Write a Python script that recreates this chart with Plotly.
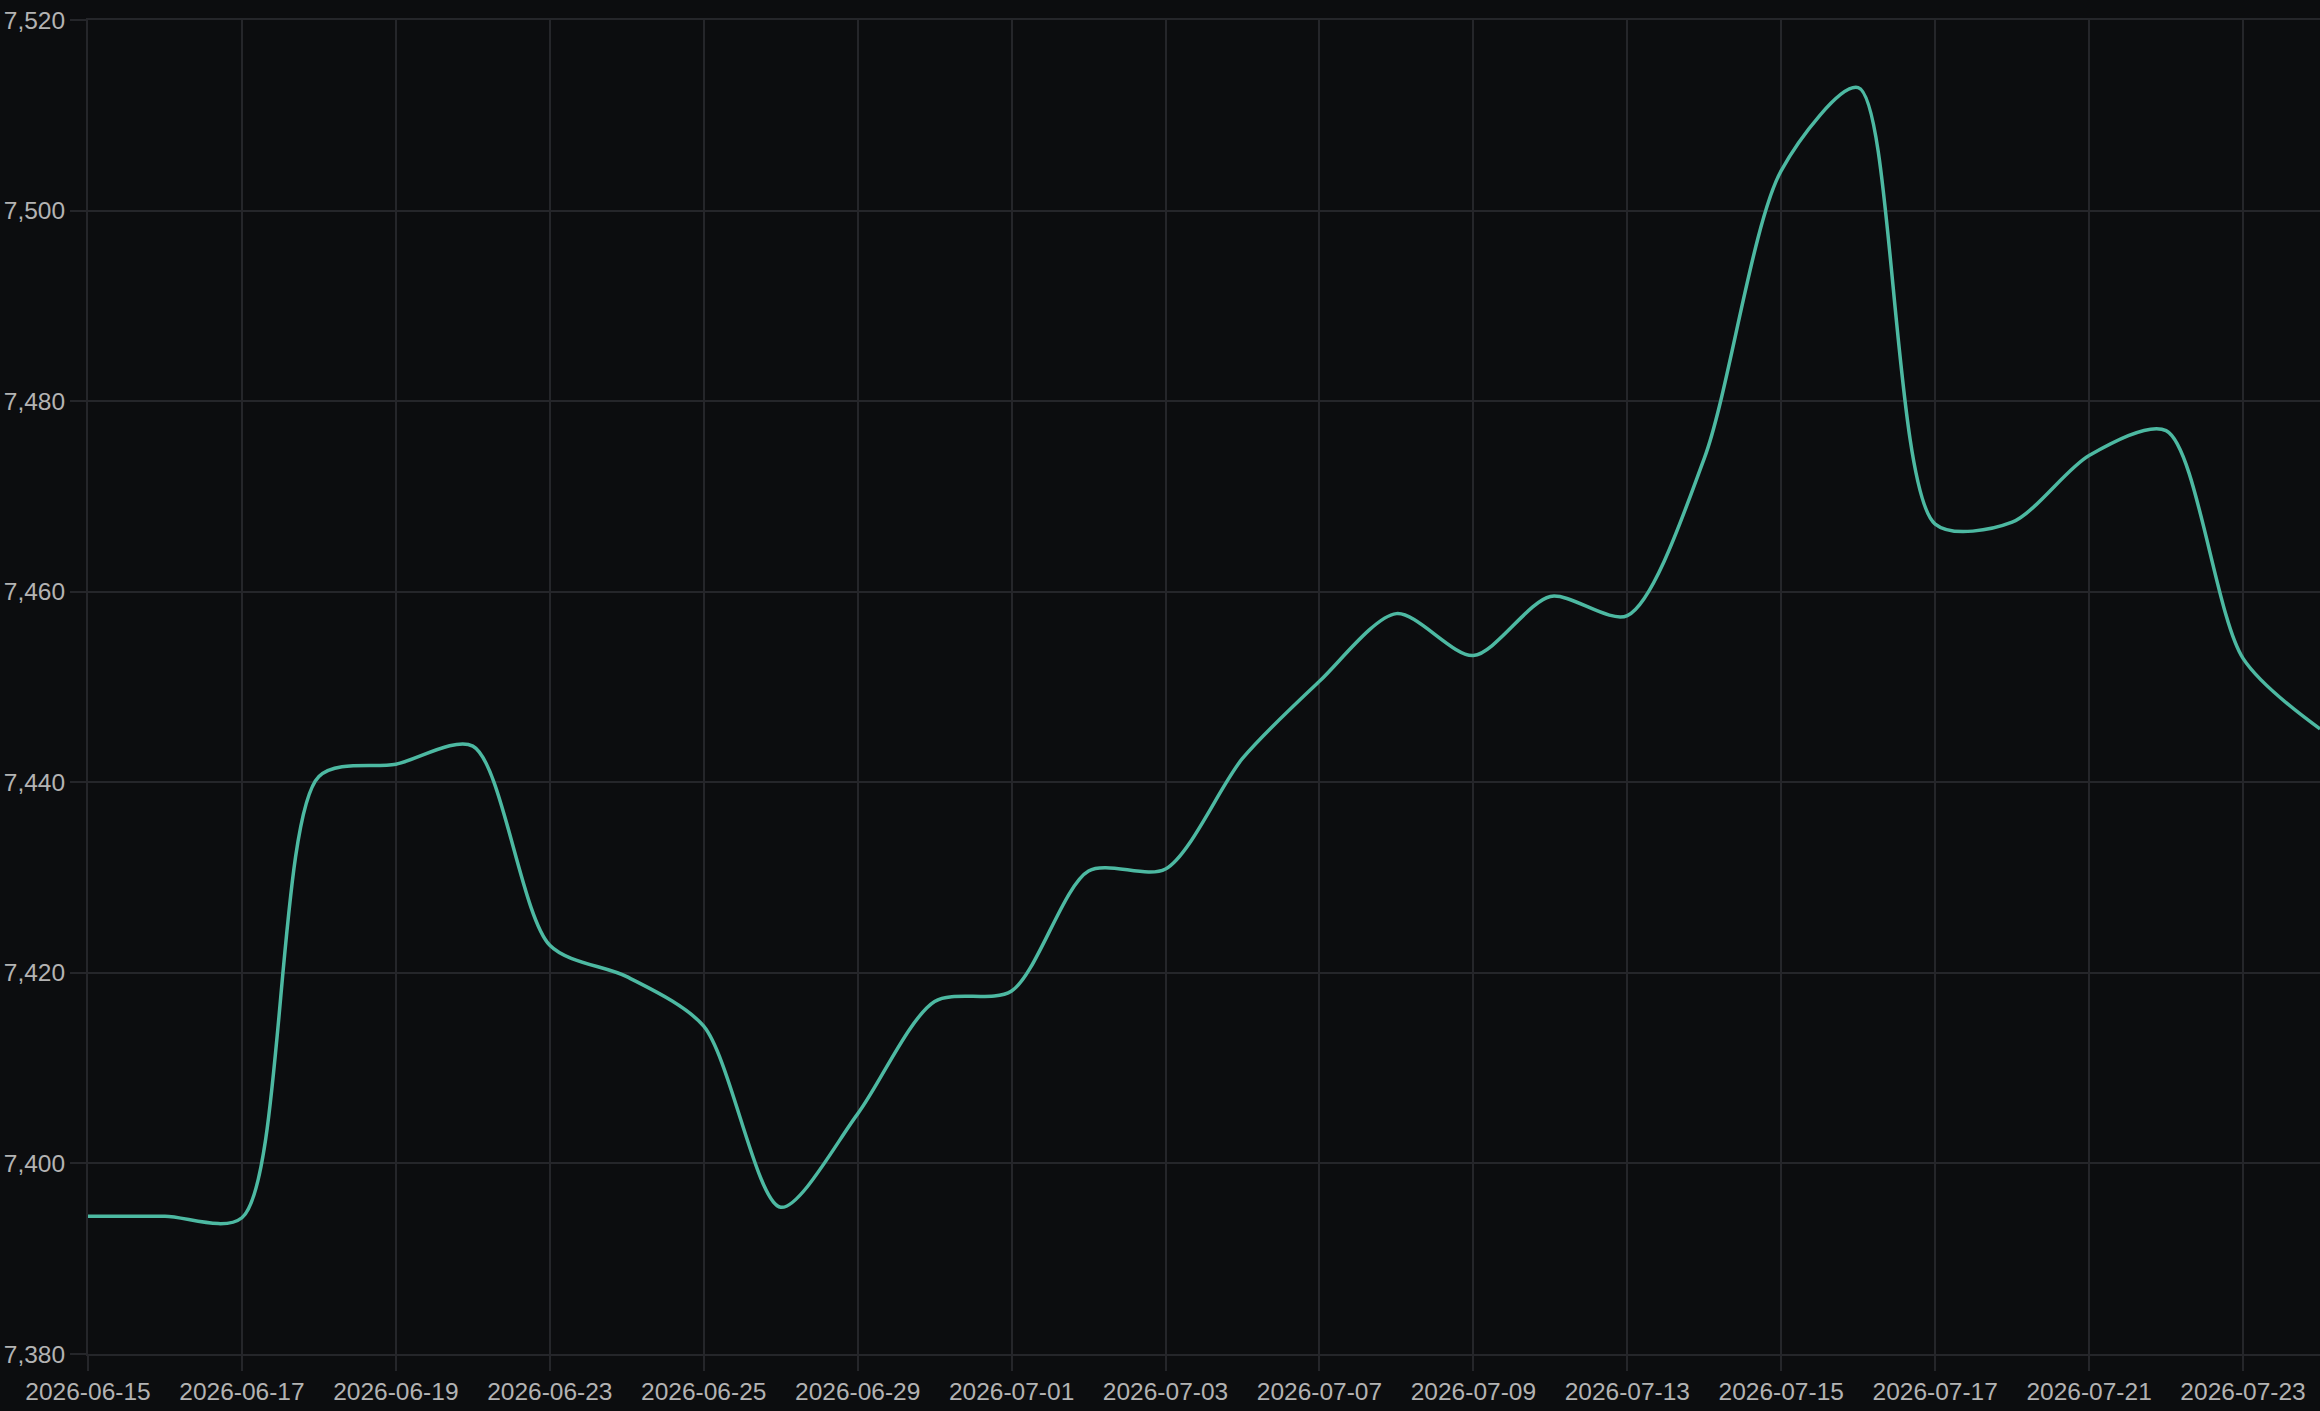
# import necessary libraries
import plotly.graph_objects as go

# business days shown on the chart (weekends skipped)
dates = [
    '2026-06-15', '2026-06-16', '2026-06-17', '2026-06-18', '2026-06-19',
    '2026-06-22', '2026-06-23', '2026-06-24', '2026-06-25', '2026-06-26',
    '2026-06-29', '2026-06-30', '2026-07-01', '2026-07-02', '2026-07-03',
    '2026-07-06', '2026-07-07', '2026-07-08', '2026-07-09', '2026-07-10',
    '2026-07-13', '2026-07-14', '2026-07-15', '2026-07-16', '2026-07-17',
    '2026-07-20', '2026-07-21', '2026-07-22', '2026-07-23', '2026-07-24',
]

# values
values = [
    7394.45, 7394.45, 7394.3, 7440.6, 7441.9,
    7443.8, 7422.9, 7419.6, 7414.4, 7395.4,
    7405.2, 7417.0, 7418.1, 7430.7, 7430.9,
    7442.5, 7450.6, 7457.7, 7453.3, 7459.5,
    7457.5, 7474.0, 7504.2, 7512.9, 7467.1,
    7467.3, 7474.3, 7476.9, 7453.0, 7445.6,
]

# every second business day gets a label
tick_labels = dates[::2]
y_ticks = [7380, 7400, 7420, 7440, 7460, 7480, 7500, 7520]

bg = '#0c0d0f'
grid = '#25262a'
text_col = '#b3b3b3'

fig = go.Figure()
fig.add_trace(go.Scatter(
    x=dates,
    y=values,
    mode='lines',
    line=dict(color='#4db9a2', width=3.5, shape='spline', smoothing=0.8),
    hoverinfo='x+y',
))

fig.update_layout(
    width=2320,
    height=1411,
    paper_bgcolor=bg,
    plot_bgcolor=bg,
    showlegend=False,
    margin=dict(l=88, r=0, t=20, b=57),
    font=dict(family='Liberation Sans, Arial, sans-serif', size=24.5, color=text_col),
)

fig.update_xaxes(
    type='category',
    range=[0, len(dates) - 1],
    tickvals=tick_labels,
    ticktext=tick_labels,
    showgrid=True,
    gridcolor=grid,
    gridwidth=2,
    ticks='outside',
    ticklen=15,
    tickwidth=2,
    tickcolor=grid,
    showline=True,
    linecolor=grid,
    linewidth=2,
    mirror=True,
    zeroline=False,
)

fig.update_yaxes(
    range=[7380, 7520],
    tickvals=y_ticks,
    tickformat=',',
    showgrid=True,
    gridcolor=grid,
    gridwidth=2,
    ticks='outside',
    ticklen=16,
    tickwidth=2,
    tickcolor=grid,
    showline=True,
    linecolor=grid,
    linewidth=2,
    zeroline=False,
)

# remove the page margin so the figure fills the window
fig.write_html(
    "out.html",
    config={'displayModeBar': False},
    post_script="document.body.style.margin='0';document.body.style.background='#0c0d0f';document.body.style.overflow='hidden';",
)
